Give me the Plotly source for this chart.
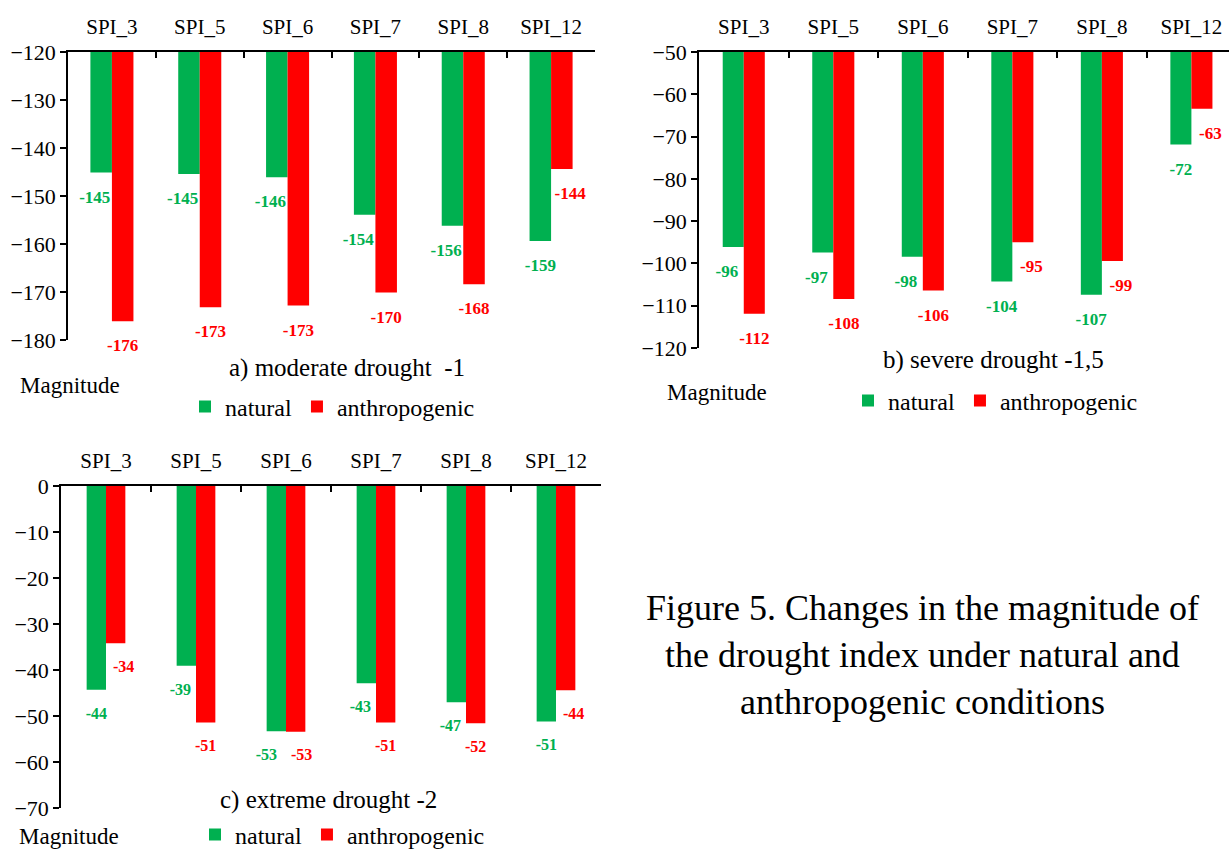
import plotly.graph_objects as go

# ---------------- data ----------------
categories = ["SPI_3", "SPI_5", "SPI_6", "SPI_7", "SPI_8", "SPI_12"]
series_names = ["natural", "anthropogenic"]

a_natural = [-145.1, -145.4, -146.1, -153.9, -156.2, -159.4]
a_anthropogenic = [-176.1, -173.2, -172.8, -170.1, -168.4, -144.4]

b_natural = [-96.1, -97.4, -98.4, -104.3, -107.4, -71.9]
b_anthropogenic = [-111.9, -108.4, -106.4, -95.0, -99.4, -63.4]

c_natural = [-44.3, -39.1, -53.3, -42.9, -47.0, -51.2]
c_anthropogenic = [-34.2, -51.4, -53.4, -51.4, -51.6, -44.4]

panel_titles = ["a) moderate drought  -1", "b) severe drought -1,5", "c) extreme drought -2"]
axis_label = "Magnitude"
caption = "Figure 5. Changes in the magnitude of<br>the drought index under natural and<br>anthropogenic conditions"

# ---------------- style ----------------
FONT = "Liberation Serif"
GREEN = "#00B050"
RED = "#FF0000"
W, H = 1229, 852
NBSP = "\u00a0"


def px_x(p):
    return p / W


def px_y(p):
    return 1 - p / H


fig = go.Figure()

SPACER = "<span style='font-size:6px'>" + NBSP + "</span><br>"


def label_text(v, other, side, size):
    # nudge a label sideways (Excel-like manual placement) so it clears the neighbour bar
    equal = abs(abs(other) - abs(v)) <= 0.5
    other_longer = abs(other) > abs(v) + 0.5
    if side == "left":
        shift = 10 if equal else (6 if other_longer else 0)
    else:
        shift = 6 if equal else (9 if other_longer else 0)
    n = int(round(shift / (0.125 * size)))
    s = "%.0f" % v
    if side == "left":
        s = s + NBSP * n
    else:
        s = NBSP * n + s
    return SPACER + "<b>" + s + "</b>"


def add_panel(nat, ant, base, xa, ya, legend, w, tsize):
    for name, vals, others, color, offset, side in [
        (series_names[0], nat, ant, GREEN, -w, "left"),
        (series_names[1], ant, nat, RED, 0.0, "right"),
    ]:
        fig.add_bar(
            x=categories,
            y=[v - base for v in vals],
            base=base,
            width=w,
            offset=offset,
            name=name,
            marker=dict(color=color, line=dict(width=0)),
            text=[label_text(v, o, side, tsize) for v, o in zip(vals, others)],
            textposition="outside",
            textfont=dict(family=FONT, size=tsize, color=color),
            constraintext="none",
            cliponaxis=False,
            xaxis=xa,
            yaxis=ya,
            legend=legend,
            hoverinfo="skip",
        )


add_panel(a_natural, a_anthropogenic, -120, "x", "y", "legend", 0.245, 17)
add_panel(b_natural, b_anthropogenic, -50, "x2", "y2", "legend2", 0.235, 17)
add_panel(c_natural, c_anthropogenic, 0, "x3", "y3", "legend3", 0.215, 16)

xcommon = dict(
    type="category",
    side="top",
    showline=True,
    linecolor="black",
    linewidth=1.5,
    ticks="inside",
    tickson="boundaries",
    ticklen=6,
    tickwidth=1.5,
    tickcolor="black",
    tickfont=dict(family=FONT, size=21, color="black"),
    ticklabelstandoff=8,
    showgrid=False,
    zeroline=False,
    fixedrange=True,
    automargin=False,
)
ycommon = dict(
    showline=True,
    linecolor="black",
    linewidth=1.5,
    ticks="outside",
    ticklen=6,
    tickwidth=1.5,
    tickcolor="black",
    tickfont=dict(family=FONT, size=22, color="black"),
    showgrid=False,
    zeroline=False,
    dtick=10,
    fixedrange=True,
    automargin=False,
)

legend_common = dict(orientation="h", xanchor="left", yanchor="middle",
                     font=dict(family=FONT, size=24, color="black"),
                     bgcolor="rgba(0,0,0,0)")

fig.update_layout(
    width=W,
    height=H,
    margin=dict(l=0, r=0, t=0, b=0, autoexpand=False),
    paper_bgcolor="white",
    plot_bgcolor="white",
    barmode="group",
    font=dict(family=FONT, color="black"),
    xaxis=dict(xcommon, domain=[px_x(68), px_x(595)], anchor="y", range=[-0.5, 5.5]),
    yaxis=dict(ycommon, domain=[px_y(340), px_y(52)], anchor="x", range=[-180, -120]),
    xaxis2=dict(xcommon, domain=[px_x(699), 1.0], anchor="y2", range=[-0.5, 5.42]),
    yaxis2=dict(ycommon, domain=[px_y(348), px_y(52)], anchor="x2", range=[-120, -50]),
    xaxis3=dict(xcommon, domain=[px_x(61), px_x(601)], anchor="y3", range=[-0.5, 5.5]),
    yaxis3=dict(ycommon, domain=[px_y(808), px_y(486)], anchor="x3", range=[-70, 0]),
    legend=dict(legend_common, x=px_x(185), y=px_y(407)),
    legend2=dict(legend_common, x=px_x(848), y=px_y(401)),
    legend3=dict(legend_common, x=px_x(195), y=px_y(835)),
    showlegend=True,
)

annotations = [
    dict(text=panel_titles[0], x=px_x(347), y=px_y(368), size=25),
    dict(text=panel_titles[1], x=px_x(993), y=px_y(360), size=25),
    dict(text=panel_titles[2], x=px_x(328), y=px_y(800), size=25),
    dict(text=axis_label, x=px_x(70), y=px_y(385), size=23),
    dict(text=axis_label, x=px_x(717), y=px_y(392), size=23),
    dict(text=axis_label, x=px_x(69), y=px_y(836), size=23),
    dict(text=caption, x=px_x(922), y=px_y(655), size=36),
]
for a in annotations:
    fig.add_annotation(
        text=a["text"], x=a["x"], y=a["y"], xref="paper", yref="paper",
        xanchor="center", yanchor="middle", showarrow=False,
        font=dict(family=FONT, size=a["size"], color="black"),
        align="center",
    )

fig.write_html(
    "out.html",
    config={"displayModeBar": False},
    post_script="document.body.style.margin='0px';document.body.style.overflow='hidden';",
)
